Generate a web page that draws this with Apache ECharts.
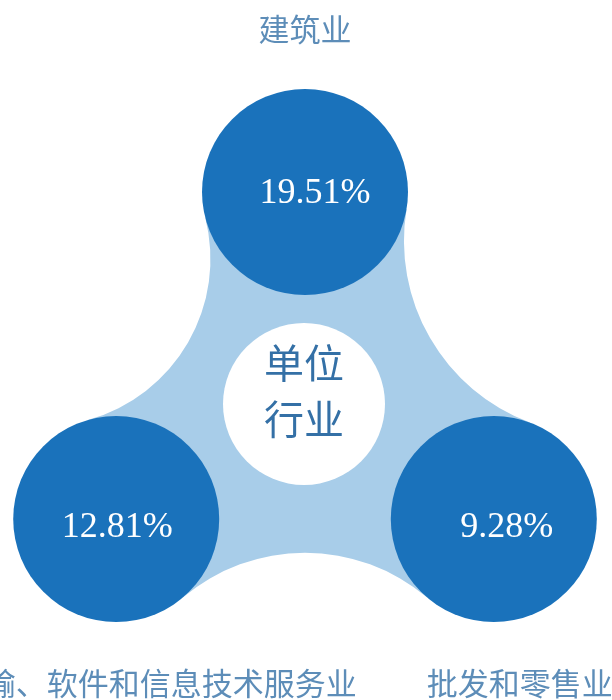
<!DOCTYPE html>
<html>
<head>
<meta charset="utf-8">
<script src="https://cdn.jsdelivr.net/npm/echarts@6/dist/echarts.min.js"></script>
<style>
html, body { margin: 0; padding: 0; background: #fff; }
#chart { width: 612px; height: 700px; }
</style>
</head>
<body>
<div id="chart"></div>
<script>
// industries, clockwise from the top
const categories = ['建筑业', '批发和零售业', '信息传输、软件和信息技术服务业'];
const shares = [19.51, 9.28, 12.81];
const centerLines = ['单位', '行业'];

const DARK = '#1a72bb';
const LIGHT = '#a8cde9';
const TEXT = '#3470a6';
const BUBBLE = 206;
// radius of the concave cut between neighbours: top-right, bottom, left-top
const cutRadius = [194, 189, 167];
const shareOffset = [[10, 2], [13, 9], [1, 9]];
const nameLabel = [
  { position: 'top', distance: 44, offset: [0, 0] },
  { position: 'bottom', distance: 46, offset: [26, 0] },
  { position: 'bottom', distance: 46, offset: [8, 0] },
];

const chart = echarts.init(document.getElementById('chart'));

// light blue band joining the three bubbles, cut by arcs tangent to each pair
function renderBridge(params, api) {
  const pts = categories.map((c, i) => api.coord([1, i]));
  const r = BUBBLE / 2;
  const g = [0, 0];
  pts.forEach((p) => { g[0] += p[0] / 3; g[1] += p[1] / 3; });
  const f = (v) => v.toFixed(2);
  let d = '';
  for (let i = 0; i < 3; i += 1) {
    const a = pts[i];
    const b = pts[(i + 1) % 3];
    const R = cutRadius[i];
    const m = [(a[0] + b[0]) / 2, (a[1] + b[1]) / 2];
    const half = Math.hypot(b[0] - a[0], b[1] - a[1]) / 2;
    const nl = Math.hypot(m[0] - g[0], m[1] - g[1]);
    const n = [(m[0] - g[0]) / nl, (m[1] - g[1]) / nl];
    const h = Math.sqrt((R + r) * (R + r) - half * half);
    const w = [m[0] + n[0] * h, m[1] + n[1] * h];
    const touch = (p) => {
      const l = Math.hypot(w[0] - p[0], w[1] - p[1]);
      return [p[0] + ((w[0] - p[0]) / l) * r, p[1] + ((w[1] - p[1]) / l) * r];
    };
    const pa = touch(a);
    const pb = touch(b);
    d += (i === 0 ? 'M' : 'L') + f(a[0]) + ' ' + f(a[1]);
    d += ' L' + f(pa[0]) + ' ' + f(pa[1]);
    d += ' A' + R + ' ' + R + ' 0 0 0 ' + f(pb[0]) + ' ' + f(pb[1]) + ' ';
  }
  d += 'Z';
  return { type: 'path', shape: { pathData: d }, style: { fill: LIGHT } };
}

const option = {
  animation: false,
  polar: { center: [305, 410], radius: 218 },
  angleAxis: {
    type: 'category',
    data: categories,
    startAngle: 90,
    clockwise: true,
    boundaryGap: false,
    show: false,
  },
  radiusAxis: { type: 'value', min: 0, max: 1, show: false },
  series: [
    {
      type: 'custom',
      coordinateSystem: 'polar',
      silent: true,
      z: 1,
      data: [[1, 0]],
      renderItem: renderBridge,
    },
    {
      type: 'scatter',
      coordinateSystem: 'polar',
      silent: true,
      z: 2,
      symbolSize: 162,
      symbolOffset: [-1, -6],
      itemStyle: { color: '#fff', opacity: 1 },
      data: [[0, 0]],
      label: {
        show: true,
        position: 'inside',
        offset: [0, -13],
        formatter: centerLines.join('\n'),
        fontFamily: 'Noto Sans CJK SC',
        fontSize: 40,
        lineHeight: 56,
        color: TEXT,
      },
    },
    {
      type: 'scatter',
      coordinateSystem: 'polar',
      silent: true,
      z: 3,
      symbolSize: BUBBLE,
      itemStyle: { color: DARK, opacity: 1 },
      data: categories.map((c, i) => ({
        name: c,
        value: [1, i, shares[i]],
        label: { offset: shareOffset[i] },
      })),
      label: {
        show: true,
        position: 'inside',
        formatter: (p) => `${shares[p.dataIndex].toFixed(2)}%`,
        fontFamily: 'Liberation Serif',
        fontSize: 36,
        color: '#fff',
      },
    },
    {
      type: 'scatter',
      coordinateSystem: 'polar',
      silent: true,
      z: 4,
      symbolSize: BUBBLE,
      itemStyle: { color: 'rgba(0,0,0,0)' },
      data: categories.map((c, i) => ({
        name: c,
        value: [1, i],
        label: nameLabel[i],
      })),
      label: {
        show: true,
        formatter: '{b}',
        fontFamily: 'Noto Sans CJK SC',
        fontSize: 31,
        lineHeight: 31,
        color: TEXT,
      },
    },
  ],
};

chart.setOption(option);
</script>
</body>
</html>
